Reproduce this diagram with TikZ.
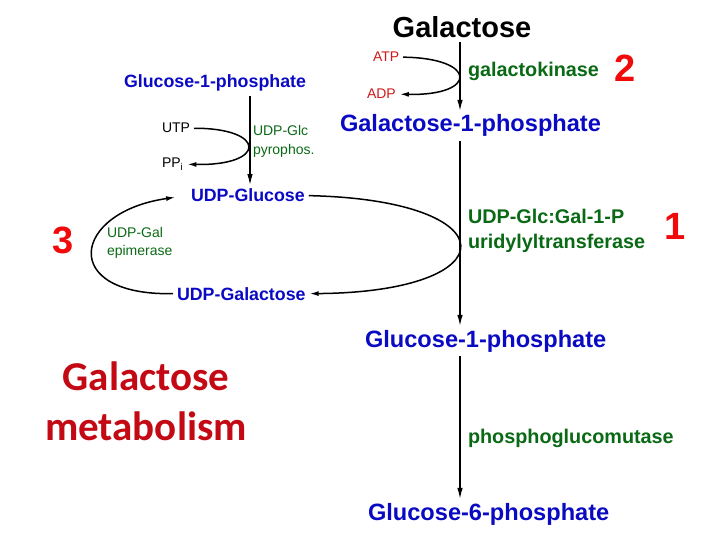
\documentclass[tikz,border=0pt]{standalone}
\usepackage{fontspec}
\setmainfont{Liberation Sans}
\newfontfamily\calibri{Carlito}
\usetikzlibrary{arrows.meta}

\definecolor{sugarblue}{RGB}{10,10,195}
\definecolor{enzgreen}{RGB}{10,105,20}
\definecolor{cofred}{RGB}{205,25,25}
\definecolor{stepred}{RGB}{240,10,10}
\definecolor{titlered}{RGB}{195,10,20}

\begin{document}
\begin{tikzpicture}[x=1pt, y=-1pt, line join=round]

                \pgfmathsetmacro{\mainx}{460}
                \pgfmathsetmacro{\sidex}{250}

                \tikzset{
                  txt/.style      = {inner sep=4pt, outer sep=0pt},
                  sugar/.style    = {txt, text=sugarblue, font=\bfseries\fontsize{23.6}{27}\selectfont},
                  sugarsm/.style  = {txt, text=sugarblue, font=\bfseries\fontsize{17.8}{21}\selectfont},
                  enzyme/.style   = {txt, text=enzgreen, font=\bfseries\fontsize{19.8}{23}\selectfont},
                  enzymesm/.style = {txt, text=enzgreen, font=\fontsize{14}{17}\selectfont},
                  cofactor/.style = {txt, font=\fontsize{14}{17}\selectfont},
                  stepnum/.style  = {txt, text=stepred, font=\bfseries\fontsize{38}{42}\selectfont},
                  flow/.style     = {line width=1.3pt, -{Latex[length=11pt,width=5.5pt]}},
                  sidearc/.style  = {line width=1.5pt, -{Latex[length=9pt,width=5pt]}}
                }

                \useasboundingbox (0,0) rectangle (720,540);

                \coordinate (axis)  at (\mainx,0);
                \coordinate (axisL) at (\sidex,0);

                % main pathway
                \node[txt, anchor=base, font=\bfseries\fontsize{29}{34}\selectfont] (gal) at (462,38) {Galactose};
                \node[sugar, anchor=base west] (gal1p) at (336,132) {Galactose-1-phosphate};
                \node[sugar, anchor=base west] (glc1p) at (361,347) {Glucose-1-phosphate};
                \node[sugar, anchor=base west] (glc6p) at (364,520) {Glucose-6-phosphate};

                \node[enzyme, anchor=base west] (galk) at (464,77) {galactokinase};
                \node[enzyme, anchor=base west] (galt) at (464,223) {UDP-Glc:Gal-1-P};
                \node[enzyme, anchor=base west] (galtb) at (464,248) {uridylyltransferase};
                \node[enzyme, anchor=base west] (pgm) at (464,443) {phosphoglucomutase};

                \node[cofactor, text=cofred, anchor=base west] (atp) at (369,62) {ATP};
                \node[cofactor, text=cofred, anchor=base west] (adp) at (363,99) {ADP};

                \node[stepnum, anchor=base] (two)   at (625,82)  {2};
                \node[stepnum, anchor=base] (one)   at (675,240) {1};
                \node[stepnum, anchor=base] (three) at (63,253)  {3};

                % UDP-glucose branch
                \node[sugarsm, anchor=base west] (lglc1p) at (120,88) {Glucose-1-phosphate};
                \node[sugarsm, anchor=base west] (udpglc) at (187,202) {UDP-Glucose};
                \node[sugarsm, anchor=base west] (udpgal) at (173,300) {UDP-Galactose};

                \node[cofactor, anchor=base west] (utp) at (158,133) {UTP};
                \node[cofactor, anchor=base west] (ppi) at (158,168) {PP\textsubscript{i}};
                \node[enzymesm, anchor=base west] (ugp)  at (249,136) {UDP-Glc};
                \node[enzymesm, anchor=base west] (ugpb) at (249,155) {pyrophos.};
                \node[enzymesm, anchor=base west] (gale)  at (103,237) {UDP-Gal};
                \node[enzymesm, anchor=base west] (galeb) at (103,255) {epimerase};

                \node[txt, text=titlered, align=center, font=\calibri\bfseries\fontsize{41}{50}\selectfont, anchor=base] (title) at (146,440) {Galactose\\metabolism};

                \draw[flow] (gal.south -| axis) -- (gal1p.north -| axis);
                \draw[flow] (gal1p.south -| axis) -- (glc1p.north -| axis);
                \draw[flow] (glc1p.south -| axis) -- (glc6p.north -| axis);
                \draw[flow] (lglc1p.south -| axisL) -- (udpglc.north -| axisL);

                \draw[sidearc] (atp.east) .. controls (478,58) and (478,96) .. (adp.east);
                \draw[sidearc] (utp.east) .. controls (267,128) and (267,166) .. (ppi.east);
                \draw[sidearc] (udpglc.east) .. controls (510,200) and (510,292) .. (udpgal.east);
                \draw[sidearc, shorten >=12pt] (udpgal.west) .. controls (58,296) and (72,212) .. (udpglc.west);

\end{tikzpicture}
\end{document}
